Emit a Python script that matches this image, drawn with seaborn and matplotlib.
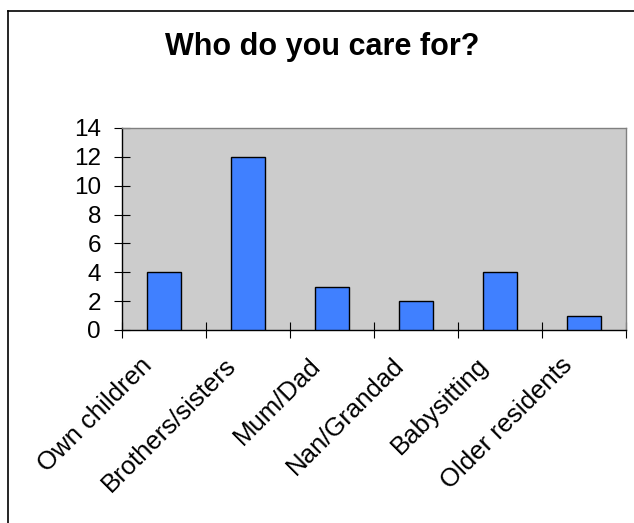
import matplotlib
matplotlib.use("Agg")
import matplotlib.pyplot as plt
import matplotlib.transforms as mtransforms
from matplotlib.lines import Line2D
import seaborn as sns
import numpy as np

categories = ["Own children", "Brothers/sisters", "Mum/Dad", "Nan/Grandad", "Babysitting", "Older residents"]
values = [4, 12, 3, 2, 4, 1]
y_ticks = [0, 2, 4, 6, 8, 10, 12, 14]
title = "Who do you care for?"

plt.rcParams['font.family'] = ['Liberation Sans', 'DejaVu Sans']

W, H = 634, 523
fig = plt.figure(figsize=(W / 100, H / 100), dpi=100)
fig.patch.set_facecolor("white")

left, right, top, bottom = 122, 626, 128, 330
ax = fig.add_axes([left / W, (H - bottom) / H, (right - left) / W, (bottom - top) / H])
ax.set_facecolor("#cccccc")

sns.barplot(x=categories, y=values, color="#4080ff", saturation=1, width=0.4,
            edgecolor="black", linewidth=1.0, ax=ax, zorder=3)

ax.set_xlim(-0.5, len(categories) - 0.5)
ax.set_ylim(0, 14)
ax.set_yticks(y_ticks)
ax.set_yticklabels([str(t) for t in y_ticks])
ax.set_xlabel("")
ax.set_ylabel("")

# category boundary ticks (minor), labels at centers (major, no tick)
ax.set_xticks(np.arange(len(categories)))
ax.set_xticks(np.arange(-0.5, len(categories), 1.0), minor=True)
ax.tick_params(axis="x", which="major", length=0, pad=22.8, labelsize=18.5)
ax.tick_params(axis="x", which="minor", direction="inout", length=11.5, width=0.8, color="black")
ax.tick_params(axis="y", which="major", direction="inout", length=11.5, width=0.8,
               color="black", pad=9.4, labelsize=17.5)

offset = mtransforms.ScaledTranslation(-15.4 / 100, 0, fig.dpi_scale_trans)
for lab in ax.get_xticklabels():
    lab.set_rotation(45)
    lab.set_rotation_mode("anchor")
    lab.set_ha("right")
    lab.set_va("center")
    lab.set_transform(lab.get_transform() + offset)

for side in ["left", "bottom"]:
    ax.spines[side].set_color("black")
    ax.spines[side].set_linewidth(1.0)
for side in ["top", "right"]:
    ax.spines[side].set_color("#808080")
    ax.spines[side].set_linewidth(1.0)

fig.text(322 / W, (H - 55) / H, title, ha="center", va="baseline",
         fontsize=22, fontweight="bold")

# outer chart border (top and left visible)
fig.add_artist(Line2D([7.5 / W, 7.5 / W], [0, (H - 10.5) / H], transform=fig.transFigure,
                      color="black", linewidth=1.2))
fig.add_artist(Line2D([7.5 / W, 1], [(H - 10.5) / H, (H - 10.5) / H], transform=fig.transFigure,
                      color="black", linewidth=1.2))

fig.savefig("out.png", dpi=100)
